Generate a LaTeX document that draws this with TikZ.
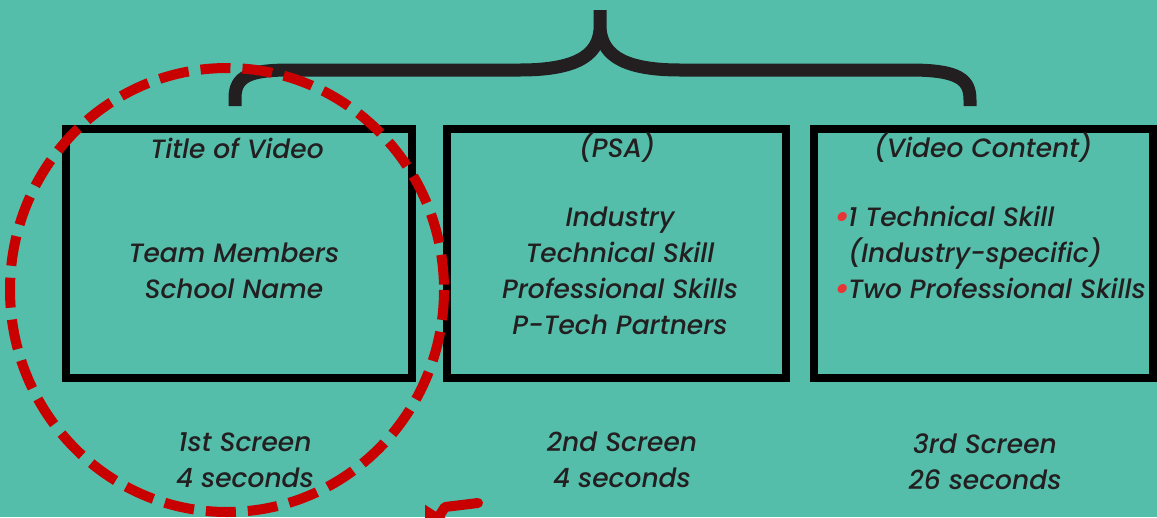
\documentclass[tikz,border=0pt]{standalone}
\usepackage{fontspec}
\usepackage{graphicx}
\setmainfont{Poppins}[ItalicFont={Poppins Medium Italic}]
\usetikzlibrary{arrows.meta}
\definecolor{teal}{RGB}{84,190,170}
\definecolor{ink}{RGB}{35,31,32}
\definecolor{darkred}{RGB}{200,0,0}
\definecolor{dotred}{RGB}{232,52,52}
\tikzset{%
    screen/.style={draw=black, line width=8pt, minimum width=#1, minimum height=249pt, inner sep=0pt},
    caption/.style={text=ink, font=\fontsize{26.5}{36}\selectfont\itshape, align=center},
    brace/.style={draw=ink, line width=13pt}
}
\newcommand{\redbullet}{\makebox[14pt][l]{\textcolor{dotred}{\raisebox{-0.06em}{\scalebox{1.3}{\textbullet}}}}}

\begin{document}
\begin{tikzpicture}[x=1pt,y=-1pt]
    \fill[teal] (0,0) rectangle (1157,517);
    \useasboundingbox (0,0) rectangle (1157,517);
    % the three screens
    \node[screen=346pt] (first) at (239,253.5) {};
    \node[screen=339pt] (second) at (616.5,253.5) {};
    \node[screen=339pt] (third) at (983.5,253.5) {};
    % brace over the screens
    \draw[brace] (235,106) -- (235,98) .. controls (235,76) and (250,70) .. (290,70) -- (520,70) .. controls (585,70) and (598,50) .. (600,30) -- (600,10);
    \draw[brace] (600,30) .. controls (603,50) and (615,70) .. (680,70) -- (910,70) .. controls (960,70) and (970,80) .. (970,100) -- (970,106);
    % texts in the screens
    \node[caption] (t1) at (237,148) {Title of Video};
    \node[caption] (m1) at (234,271) {Team Members\\School Name};
    \node[caption] (t2) at (617,148) {(PSA)};
    \node[caption] (m2) at (620,271) {Industry\\Technical Skill\\Professional Skills\\P-Tech Partners};
    \node[caption] (t3) at (983,148) {(Video Content)};
    \node[caption, align=left, anchor=west, inner sep=0pt] (m3) at (834,253) {\redbullet 1 Technical Skill\\\phantom{\redbullet}(Industry-specific)\\\redbullet Two Professional Skills};
    % captions below
    \node[caption] (c1) at (245,460) {1st Screen\\4 seconds};
    \node[caption] (c2) at (622,460) {2nd Screen\\4 seconds};
    \node[caption] (c3) at (985,462) {3rd Screen\\26 seconds};
    % red highlight
    \draw[darkred, line width=10pt, dash pattern=on 30pt off 12pt] (227,290) ellipse [x radius=217, y radius=222];
    \coordinate (tail) at (478,503);
    \coordinate (bend) at (445,507);
    \coordinate (tip) at (425,538);
    \draw[darkred, line width=10pt, line cap=round, line join=round, -{Triangle[length=28pt,width=34pt]}] (tail) -- (bend) -- (tip);
\end{tikzpicture}
\end{document}
